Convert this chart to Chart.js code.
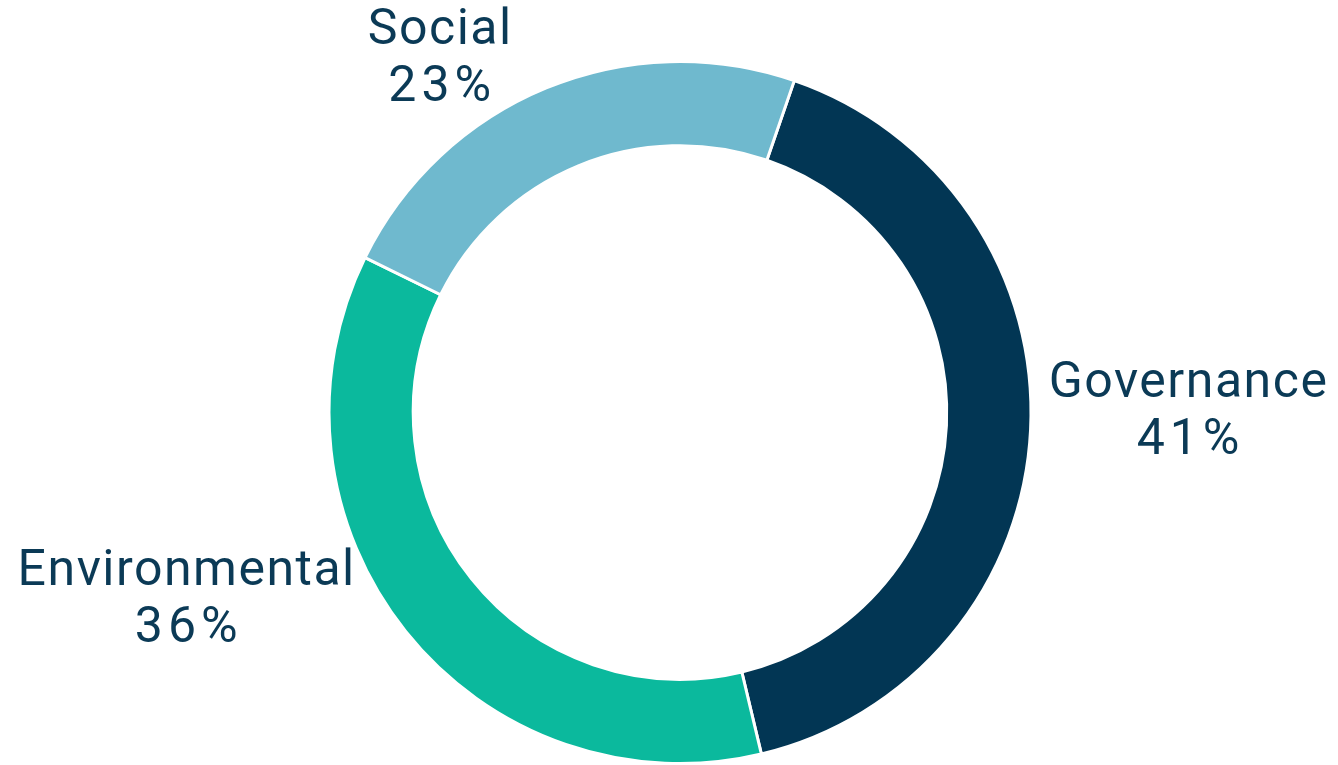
<!DOCTYPE html>
<html>
<head>
<meta charset="utf-8">
<script src="https://cdn.jsdelivr.net/npm/chart.js@4/dist/chart.umd.min.js"></script>
<style>
html,body{margin:0;padding:0;background:#fff;}
#wrap{width:1338px;height:765px;position:relative;}
</style>
</head>
<body>
<div id="wrap"><canvas id="c" width="1338" height="765"></canvas></div>
<script>
const categories = ["Governance", "Environmental", "Social"];
const shares = [41, 36, 23];
const colors = ["#023654", "#0bb99d", "#6fb9ce"];

const labelPlugin = {
  id: 'outerLabels',
  afterDraw(chart, args, opts) {
    const ctx = chart.ctx;
    const meta = chart.getDatasetMeta(0);
    ctx.save();
    ctx.fillStyle = opts.color;
    ctx.font = opts.font;
    ctx.textAlign = 'center';
    ctx.textBaseline = 'alphabetic';
    const hasLS = 'letterSpacing' in ctx;
    meta.data.forEach((arc, i) => {
      const p = arc.getProps(['x','y','startAngle','endAngle','outerRadius'], true);
      const mid = (p.startAngle + p.endAngle) / 2;
      const ex = p.x + Math.cos(mid) * p.outerRadius;
      const ey = p.y + Math.sin(mid) * p.outerRadius;
      const off = opts.offsets[i];
      const tx = ex + off[0], ty = ey + off[1];
      if (hasLS) ctx.letterSpacing = opts.letterSpacing;
      ctx.fillText(chart.data.labels[i], tx, ty);
      if (hasLS) ctx.letterSpacing = opts.valueLetterSpacing;
      ctx.fillText(chart.data.datasets[0].data[i] + '%', tx + 2, ty + opts.lineHeight);
    });
    ctx.restore();
  }
};

new Chart(document.getElementById('c'), {
  type: 'doughnut',
  data: {
    labels: categories,
    datasets: [{
      data: shares,
      backgroundColor: colors,
      borderColor: '#ffffff',
      borderWidth: 3,
      hoverOffset: 0
    }]
  },
  options: {
    responsive: false,
    animation: false,
    rotation: 19,
    cutout: '76%',
    layout: { padding: { top: 60, left: 22, right: 0, bottom: 0 } },
    plugins: {
      legend: { display: false },
      tooltip: { enabled: false },
      outerLabels: {
        color: '#0b3a56',
        font: '50px Roboto',
        letterSpacing: '1.5px',
        valueLetterSpacing: '5px',
        lineHeight: 57,
        offsets: [[158, -33], [-219, -46], [-106, -44]]
      }
    }
  },
  plugins: [labelPlugin]
});
</script>
</body>
</html>
